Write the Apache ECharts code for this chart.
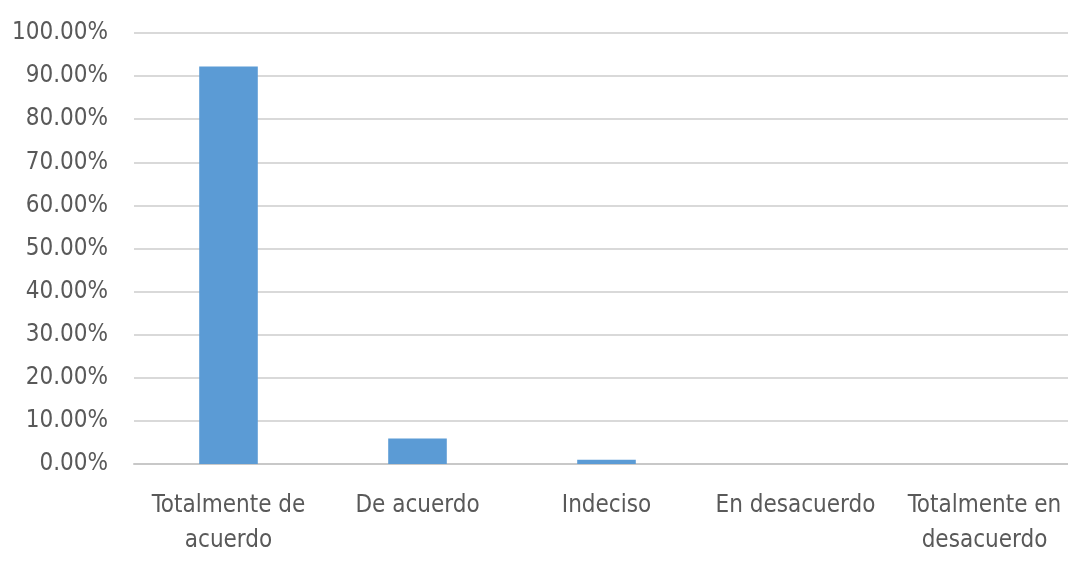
<!DOCTYPE html>
<html>
<head>
<meta charset="utf-8">
<script src="https://cdn.jsdelivr.net/npm/echarts@6/dist/echarts.min.js"></script>
<style>html,body{margin:0;padding:0;background:#fff;}#c{width:1068px;height:562px;}</style>
</head>
<body>
<div id="c"></div>
<script>
const categories = ["Totalmente de\nacuerdo", "De acuerdo", "Indeciso", "En desacuerdo", "Totalmente en\ndesacuerdo"];
const values = [92.2, 5.9, 1.0, 0, 0];
const yTicks = {min: 0, max: 100, interval: 10};

const font = '"Liberation Sans Narrow", "DejaVu Sans Condensed", "Noto Sans", sans-serif';
const chart = echarts.init(document.getElementById('c'));
chart.setOption({
  animation: false,
  backgroundColor: '#ffffff',
  grid: {left: 134, right: -11, top: 33, bottom: 98, outerBoundsMode: 'none', containLabel: false},
  xAxis: {
    type: 'category',
    data: categories,
    axisTick: {show: false},
    axisLine: {lineStyle: {color: '#c8c8c8', width: 2}},
    axisLabel: {color: '#595959', fontSize: 24, fontFamily: font, lineHeight: 35, margin: 24, interval: 0}
  },
  yAxis: {
    type: 'value',
    min: yTicks.min, max: yTicks.max, interval: yTicks.interval,
    axisLine: {show: false},
    axisTick: {show: false},
    splitLine: {lineStyle: {color: '#d9d9d9', width: 2}},
    axisLabel: {color: '#595959', fontSize: 24, fontFamily: font, margin: 26,
      formatter: v => v.toFixed(2) + '%'}
  },
  series: [{
    type: 'bar',
    data: values,
    barWidth: '31%',
    itemStyle: {color: '#5b9bd5'}
  }]
});
</script>
</body>
</html>
